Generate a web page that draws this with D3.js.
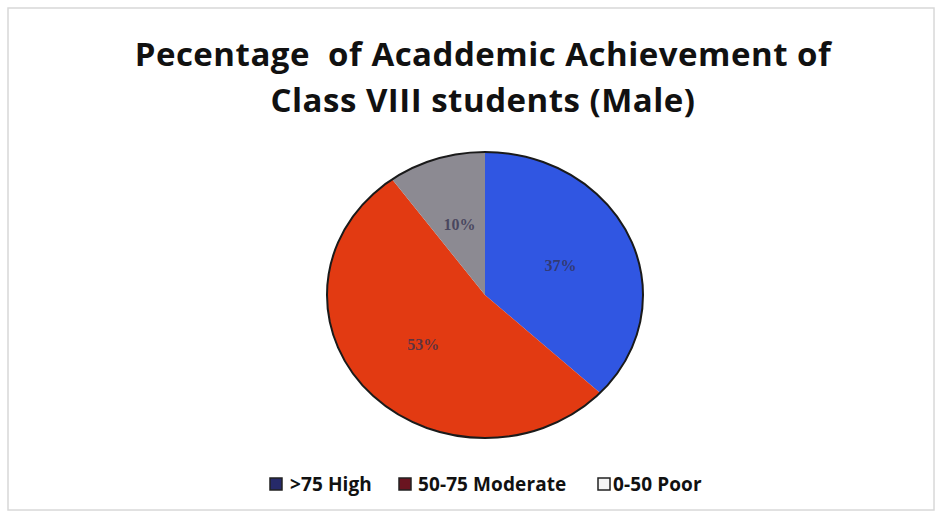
<!DOCTYPE html>
<html>
<head>
<meta charset="utf-8">
<script src="https://cdn.jsdelivr.net/npm/d3@7"></script>
<style>
  body { margin: 0; background: #fff; }
  svg { display: block; }
  text { white-space: pre; }
</style>
</head>
<body>
<svg width="936" height="512"></svg>
<script>
// chart data
var categories = [">75 High", "50-75 Moderate", "0-50 Poor"];
var values = [37, 53, 10];
var sliceColors = ["#3056e2", "#e23a12", "#8c8a92"];
var legendColors = ["#262a6a", "#6a1420", "#f4f4f4"];
var titleLines = ["Pecentage  of Acaddemic Achievement of", "Class VIII students (Male)"];

var svg = d3.select("svg");
var W = +svg.attr("width"), H = +svg.attr("height");

// faint frame of the chart area
svg.append("rect")
  .attr("x", 8).attr("y", 8)
  .attr("width", W - 10).attr("height", H - 10)
  .attr("fill", "#fff")
  .attr("stroke", "#d8d8d8")
  .attr("stroke-width", 1.5);

// title
svg.append("g").selectAll("text")
  .data(titleLines)
  .enter().append("text")
  .attr("x", 483)
  .attr("y", function (d, i) { return 66 + i * 46; })
  .attr("text-anchor", "middle")
  .attr("font-family", "'Open Sans', sans-serif")
  .attr("font-weight", "bold")
  .attr("font-size", 33)
  .attr("letter-spacing", 0.5)
  .attr("fill", "#111")
  .text(function (d) { return d; });

// pie
var cx = 485, cy = 295, rx = 158, ry = 143;
var pie = d3.pie().sort(null).value(function (d) { return d; });
var arcs = pie(values);
var arc = d3.arc().innerRadius(0).outerRadius(1);
var labelArc = d3.arc().innerRadius(0.52).outerRadius(0.52);

var g = svg.append("g")
  .attr("transform", "translate(" + cx + "," + cy + ") scale(" + rx + "," + ry + ")");

g.selectAll("path")
  .data(arcs)
  .enter().append("path")
  .attr("d", arc)
  .attr("fill", function (d, i) { return sliceColors[i]; });

// outline round the whole pie
g.append("ellipse")
  .attr("rx", 1).attr("ry", 1)
  .attr("fill", "none")
  .attr("stroke", "#1a1a1a")
  .attr("stroke-width", 2)
  .attr("vector-effect", "non-scaling-stroke");

svg.append("g").selectAll("text")
  .data(arcs)
  .enter().append("text")
  .attr("x", function (d) { return cx + labelArc.centroid(d)[0] * rx; })
  .attr("y", function (d) { return cy + labelArc.centroid(d)[1] * ry + 6; })
  .attr("text-anchor", "middle")
  .attr("font-family", "'Liberation Serif', serif")
  .attr("font-weight", "bold")
  .attr("font-size", 16)
  .attr("fill", "#33304e")
  .attr("fill-opacity", 0.75)
  .text(function (d) { return d.value + "%"; });

// legend
var legendX = [270, 399, 598];
var textOffset = [20, 19, 15];
var legend = svg.append("g").selectAll("g")
  .data(categories)
  .enter().append("g")
  .attr("transform", function (d, i) { return "translate(" + legendX[i] + ",478)"; });

legend.append("rect")
  .attr("width", 12).attr("height", 12)
  .attr("fill", function (d, i) { return legendColors[i]; })
  .attr("stroke", "#222")
  .attr("stroke-width", 1.5);

legend.append("text")
  .attr("x", function (d, i) { return textOffset[i]; })
  .attr("y", 13)
  .attr("font-family", "'Open Sans', sans-serif")
  .attr("font-weight", "bold")
  .attr("font-size", 19)
  .attr("letter-spacing", 0.1)
  .attr("fill", "#111")
  .text(function (d) { return d; });
</script>
</body>
</html>
